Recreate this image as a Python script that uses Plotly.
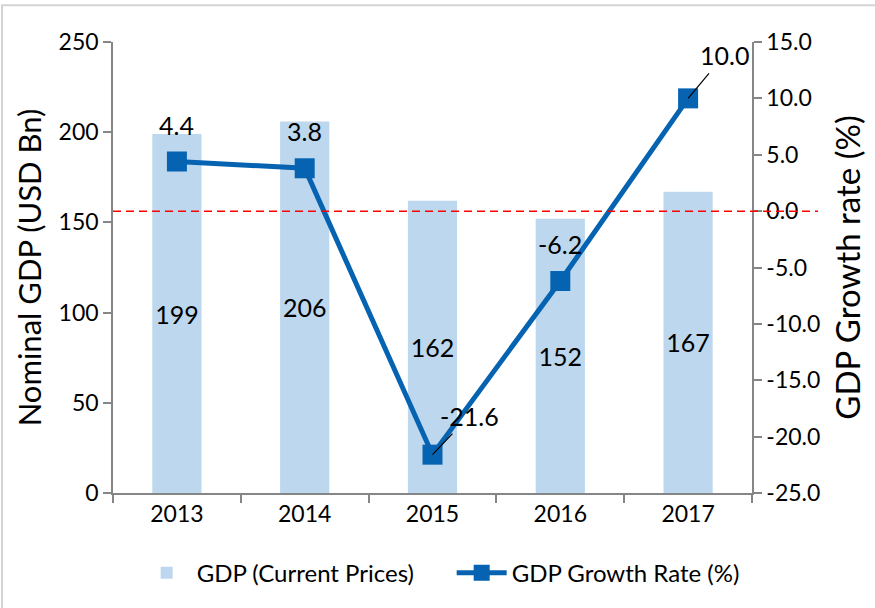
import plotly.graph_objects as go

years = ["2013", "2014", "2015", "2016", "2017"]
gdp = [199, 206, 162, 152, 167]
growth = [4.4, 3.8, -21.6, -6.2, 10.0]
growth_labels = ["4.4", "3.8", "-21.6", "-6.2", "10.0"]
y1_ticks = [0, 50, 100, 150, 200, 250]
y2_ticks = [-25, -20, -15, -10, -5, 0, 5, 10, 15]
y2_ticktext = ["-25.0", "-20.0", "-15.0", "-10.0", "-5.0", "0.0", "5.0", "10.0", "15.0"]

# label placement offsets (px): (dx, dy, leader line)
label_offsets = [(0, -37, False), (0, -37, False), (37, -39, True), (0, -37, False), (36, -43, True)]

FONT = "Lato"
BAR = "#BDD7EE"
LINE = "#0563B1"
AX = "#868686"

W, H = 875, 608
L, R, T, B = 113, 123, 42, 112
pw = W - L - R
ph = H - T - B

fig = go.Figure()
fig.add_trace(go.Bar(
    x=years, y=gdp, name="GDP (Current Prices)",
    marker=dict(color=BAR, line=dict(width=0)),
    width=0.385,
    text=[str(v) for v in gdp], textposition="inside", insidetextanchor="middle",
    textangle=0, constraintext="none",
    textfont=dict(family=FONT, size=25, color="black"),
))
fig.add_trace(go.Scatter(
    x=years, y=growth, name="GDP Growth Rate (%)", yaxis="y2",
    mode="lines+markers",
    line=dict(color=LINE, width=5),
    marker=dict(symbol="square", size=20, color=LINE),
    cliponaxis=False,
))

annotations = []
for i, (g, lab, (dx, dy, arrow)) in enumerate(zip(growth, growth_labels, label_offsets)):
    if arrow:
        annotations.append(dict(
            x=i, y=g, xref="x", yref="y2", text=lab, showarrow=True,
            ax=dx, ay=dy, arrowhead=0, arrowwidth=1.2, arrowcolor="black",
            standoff=0, startstandoff=2,
            font=dict(family=FONT, size=25, color="black"),
        ))
    else:
        annotations.append(dict(
            x=i, y=g, xref="x", yref="y2", text=lab, showarrow=False,
            yshift=-dy, xshift=dx,
            font=dict(family=FONT, size=25, color="black"),
        ))

fig.update_layout(
    width=W, height=H,
    margin=dict(l=L, r=R, t=T, b=B, pad=0),
    paper_bgcolor="white", plot_bgcolor="white",
    font=dict(family=FONT, size=20, color="black"),
    showlegend=True,
    legend=dict(orientation="h", x=0.53, xanchor="center", y=-0.128, yanchor="top",
                font=dict(family=FONT, size=24), itemwidth=50,
                entrywidth=250, entrywidthmode="pixels"),
    xaxis=dict(
        type="category", categoryorder="array", categoryarray=years, range=[-0.5, 4.5],
        automargin=False,
        showline=True, linecolor=AX, linewidth=1.5,
        ticks="outside", ticklen=8, tickcolor=AX, tickwidth=1.5, tickson="boundaries",
        tickfont=dict(family=FONT, size=23), showgrid=False, zeroline=False,
    ),
    yaxis=dict(
        range=[0, 250], tickvals=y1_ticks, showline=True, linecolor=AX, linewidth=1.5,
        automargin=False,
        ticks="outside", ticklen=8, tickcolor=AX, tickwidth=1.5,
        tickfont=dict(family=FONT, size=23), showgrid=False, zeroline=False,
        title=dict(text="Nominal GDP (USD Bn)", font=dict(family=FONT, size=31), standoff=8),
    ),
    yaxis2=dict(
        range=[-25, 15], overlaying="y", side="right", tickvals=y2_ticks, ticktext=y2_ticktext,
        automargin=False,
        showline=True, linecolor=AX, linewidth=1.5,
        ticks="outside", ticklen=8, tickcolor=AX, tickwidth=1.5,
        tickfont=dict(family=FONT, size=23), showgrid=False, zeroline=False,
        title=dict(text="GDP Growth rate (%)", font=dict(family=FONT, size=33), standoff=18),
    ),
    annotations=annotations,
    shapes=[
        dict(type="line", xref="paper", yref="y2", x0=0, x1=(818 - L) / pw, y0=0, y1=0,
             line=dict(color="red", width=1.5, dash="8px,5px")),
        dict(type="rect", xref="paper", yref="paper",
             x0=-(L - 2) / pw, x1=1 + (R + 10) / pw,
             y0=-(B + 10) / ph, y1=1 + (T - 5) / ph,
             line=dict(color="#D4D4D4", width=2), layer="below"),
    ],
)

fig.write_html("out.html", config={"displayModeBar": False},
               post_script="document.body.style.margin='0';")
